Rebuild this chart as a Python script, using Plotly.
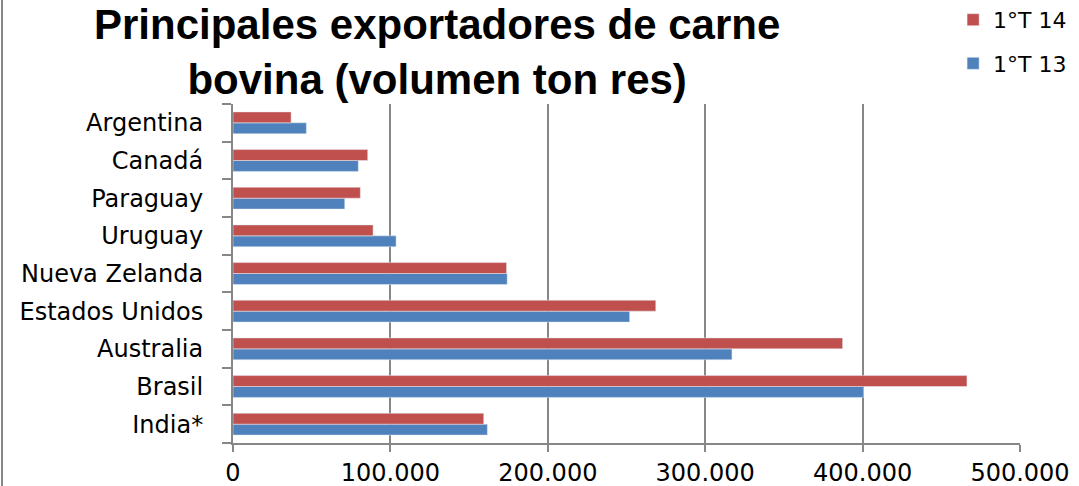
import plotly.graph_objects as go

# categories listed bottom to top, as drawn
paises = ["India*", "Brasil", "Australia", "Estados Unidos", "Nueva Zelanda",
          "Uruguay", "Paraguay", "Canadá", "Argentina"]
t13 = [161600, 400500, 317000, 252000, 174200, 103600, 71000, 79600, 46600]
t14 = [159300, 466300, 387300, 268600, 173800, 89000, 80900, 85600, 36900]

rojo = "#C0504D"
azul = "#4F81BD"
gris = "#878787"

fig = go.Figure()
fig.add_trace(go.Bar(
    y=paises, x=t13, orientation="h", name="1°T 13",
    marker_color=azul, legendgroup="a", legendrank=2
))
fig.add_trace(go.Bar(
    y=paises, x=t14, orientation="h", name="1°T 14",
    marker_color=rojo, legendgroup="b", legendrank=1
))

fig.update_layout(
    width=1079,
    height=486,
    margin=dict(l=233, r=59, t=104, b=43, autoexpand=False),
    paper_bgcolor="white",
    plot_bgcolor="white",
    barmode="group",
    bargap=0.42,
    bargroupgap=0,
    separators=",.",
    font=dict(family="DejaVu Sans", size=24, color="black"),
    legend=dict(
        x=0.915, xanchor="left", y=1.31, yanchor="top",
        traceorder="grouped", tracegroupgap=12,
        font=dict(family="DejaVu Sans", size=22),
        bgcolor="rgba(0,0,0,0)",
    ),
    xaxis=dict(
        range=[0, 500000],
        dtick=100000,
        tickformat=",d",
        showgrid=True, gridcolor=gris, gridwidth=2,
        showline=True, linecolor=gris, linewidth=2,
        ticks="outside", ticklen=7, tickcolor=gris, tickwidth=2,
        zeroline=False,
        tickfont=dict(size=24),
    ),
    yaxis=dict(
        showline=True, linecolor=gris, linewidth=2,
        ticks="outside", ticklen=9, tickcolor=gris, tickwidth=2,
        tickson="boundaries",
        ticklabelstandoff=23,
        showgrid=False,
        tickfont=dict(size=24),
    ),
    annotations=[dict(
        text="<b>Principales exportadores de carne<br>bovina (volumen ton res)</b>",
        font=dict(family="Liberation Sans", size=42, color="black"),
        xref="paper", yref="paper", x=0.259, y=1.31,
        xanchor="center", yanchor="top", showarrow=False,
    )],
    shapes=[dict(
        type="line", xref="paper", yref="paper",
        x0=-0.2935, x1=-0.2935, y0=-0.13, y1=1.31,
        line=dict(color=gris, width=2),
    )],
)

# the page body has a default 8px margin; drop it so the figure fills the window
fig.write_html("out.html", config={"displayModeBar": False},
               post_script="document.body.style.margin='0px';")
